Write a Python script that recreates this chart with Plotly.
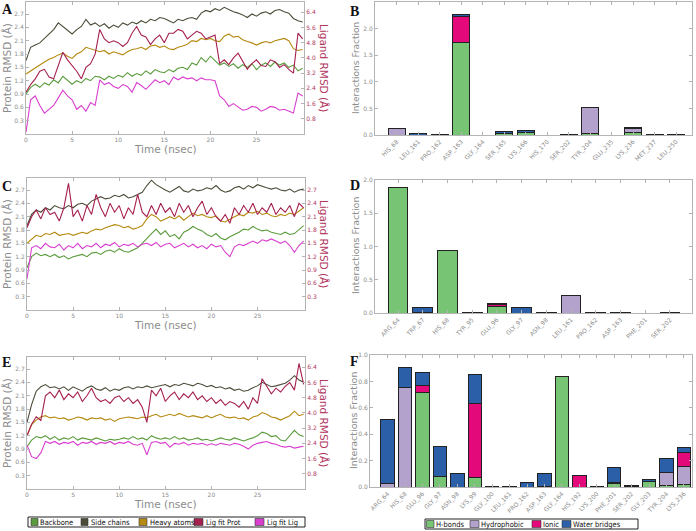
import plotly.graph_objects as go

W, H = 696, 531

# ---------------- data ----------------
TIME = [i * 0.5 for i in range(61)]

A_backbone = [0.9,1.05,1.12,1.05,1.15,1.1,1.22,1.15,1.3,1.2,1.12,1.2,1.15,1.25,1.2,1.3,1.28,1.22,1.3,1.25,1.32,1.28,1.38,1.3,1.36,1.32,1.42,1.35,1.45,1.4,1.38,1.45,1.4,1.48,1.5,1.45,1.6,1.55,1.72,1.62,1.75,1.65,1.55,1.6,1.52,1.58,1.48,1.56,1.5,1.58,1.45,1.55,1.6,1.52,1.62,1.55,1.6,1.5,1.55,1.42,1.48]
A_side = [1.65,1.95,2.0,2.05,2.15,2.25,2.35,2.5,2.42,2.35,2.25,2.35,2.42,2.58,2.45,2.5,2.42,2.48,2.38,2.45,2.4,2.5,2.45,2.52,2.48,2.55,2.5,2.58,2.55,2.62,2.6,2.55,2.5,2.58,2.55,2.6,2.62,2.58,2.72,2.78,2.75,2.82,2.78,2.85,2.8,2.75,2.72,2.68,2.62,2.7,2.65,2.72,2.75,2.7,2.78,2.8,2.75,2.72,2.6,2.55,2.52]
A_heavy = [1.35,1.42,1.5,1.55,1.62,1.68,1.72,1.78,1.82,1.75,1.7,1.8,1.85,1.95,1.92,1.88,1.85,1.88,1.8,1.85,1.82,1.78,1.85,1.9,1.92,1.95,1.9,1.98,2.0,1.95,1.98,1.92,1.9,1.95,1.98,2.02,2.1,2.08,2.15,2.12,2.15,2.1,2.08,2.2,2.25,2.18,2.2,2.12,2.08,2.05,2.0,2.05,2.08,2.05,2.1,2.12,2.15,2.1,1.92,1.88,1.9]
A_ligprot = [2.2,2.6,2.9,3.3,3.4,3.0,2.9,3.6,4.3,3.9,3.6,3.3,2.9,3.5,3.7,4.2,5.5,5.0,4.8,4.9,4.8,4.6,4.8,5.3,5.65,5.2,5.1,4.7,5.0,5.2,4.8,5.3,5.3,5.5,5.4,5.0,5.2,5.4,5.3,5.0,5.1,5.2,3.7,3.9,3.65,4.0,4.25,3.8,3.4,3.7,3.9,3.6,3.55,3.9,3.8,3.5,3.65,3.4,3.2,5.3,5.0]
A_liglig = [0.1,1.8,2.0,1.5,1.1,1.3,1.5,1.9,2.3,2.0,1.8,1.3,1.5,1.2,1.65,1.5,2.85,2.6,2.7,2.5,2.4,2.6,2.5,2.2,2.7,2.55,2.35,2.6,2.85,2.7,2.8,2.6,3.0,2.85,3.0,2.9,2.95,2.8,2.95,2.85,2.85,2.8,2.0,1.8,1.45,1.6,1.4,1.25,1.3,1.45,1.4,1.2,1.3,1.45,1.4,1.25,1.3,1.2,1.1,2.15,2.0]

C_backbone = [0.95,1.2,1.28,1.22,1.25,1.2,1.25,1.18,1.22,1.15,1.2,1.22,1.25,1.2,1.28,1.3,1.25,1.32,1.35,1.3,1.38,1.32,1.3,1.35,1.4,1.5,1.62,1.72,1.82,1.7,1.78,1.65,1.7,1.6,1.75,1.8,1.88,1.82,1.78,1.7,1.65,1.72,1.62,1.58,1.65,1.7,1.75,1.82,1.8,1.88,1.82,1.78,1.8,1.75,1.72,1.7,1.75,1.7,1.72,1.8,1.9]
C_side = [1.9,2.15,2.25,2.2,2.3,2.25,2.35,2.3,2.28,2.35,2.3,2.38,2.4,2.35,2.45,2.5,2.55,2.5,2.52,2.58,2.55,2.6,2.52,2.55,2.6,2.65,2.8,2.92,2.82,2.75,2.7,2.65,2.72,2.78,2.68,2.65,2.72,2.68,2.7,2.75,2.72,2.8,2.7,2.65,2.68,2.75,2.78,2.72,2.8,2.75,2.82,2.78,2.75,2.72,2.75,2.7,2.68,2.72,2.65,2.7,2.72]
C_heavy = [1.5,1.6,1.68,1.65,1.72,1.7,1.75,1.68,1.7,1.72,1.68,1.72,1.75,1.72,1.78,1.82,1.8,1.85,1.88,1.92,1.9,1.85,1.88,1.82,1.85,1.9,2.05,2.15,2.1,2.0,2.05,2.1,2.05,2.12,2.02,2.1,2.18,2.12,2.15,2.1,2.08,2.12,2.0,1.98,2.05,2.1,2.15,2.12,2.2,2.18,2.22,2.15,2.18,2.12,2.1,2.15,2.12,2.18,2.15,2.22,2.3]
C_ligprot = [1.85,2.1,2.25,2.05,2.3,2.15,2.2,2.0,2.3,2.85,2.1,2.25,2.0,2.35,2.15,2.6,2.3,2.1,2.4,2.2,2.35,2.05,2.3,2.15,2.6,2.2,2.1,2.35,2.15,2.4,2.2,2.3,2.1,2.4,2.2,2.35,2.1,2.3,2.45,2.15,2.3,2.1,2.0,2.15,1.95,2.3,2.15,2.35,2.2,2.4,2.15,2.3,2.2,2.4,2.15,2.3,2.2,2.35,2.1,2.4,2.3]
C_liglig = [0.7,1.4,1.45,1.38,1.5,1.42,1.4,1.48,1.35,1.45,1.4,1.5,1.38,1.45,1.42,1.5,1.4,1.48,1.45,1.52,1.42,1.48,1.45,1.5,1.42,1.48,1.5,1.45,1.52,1.42,1.48,1.5,1.4,1.45,1.5,1.42,1.48,1.4,1.45,1.38,1.48,1.42,1.45,1.3,1.2,1.42,1.48,1.45,1.5,1.55,1.5,1.58,1.55,1.6,1.55,1.5,1.55,1.45,1.3,1.45,1.55]

E_backbone = [0.95,1.1,1.18,1.15,1.2,1.12,1.18,1.1,1.15,1.12,1.18,1.1,1.15,1.12,1.1,1.15,1.12,1.08,1.12,1.1,1.12,1.15,1.12,1.18,1.12,1.15,1.1,1.2,1.15,1.12,1.15,1.12,1.18,1.12,1.15,1.1,1.12,1.15,1.1,1.12,1.08,1.12,1.15,1.12,1.1,1.15,1.12,1.08,1.12,1.15,1.2,1.28,1.25,1.18,1.2,1.1,1.08,1.2,1.32,1.22,1.18]
E_side = [1.5,1.9,2.2,2.3,2.35,2.28,2.3,2.25,2.3,2.22,2.3,2.25,2.2,2.28,2.32,2.25,2.22,2.28,2.2,2.25,2.22,2.28,2.3,2.25,2.3,2.28,2.32,2.28,2.3,2.32,2.35,2.3,2.35,2.33,2.38,2.35,2.32,2.38,2.35,2.3,2.33,2.28,2.3,2.25,2.28,2.22,2.25,2.2,2.22,2.28,2.32,2.4,2.35,2.3,2.32,2.35,2.38,2.45,2.55,2.45,2.4]
E_heavy = [1.2,1.45,1.55,1.62,1.65,1.6,1.62,1.58,1.6,1.55,1.58,1.62,1.6,1.55,1.6,1.58,1.6,1.55,1.58,1.52,1.58,1.6,1.62,1.6,1.58,1.62,1.6,1.65,1.68,1.62,1.65,1.68,1.65,1.7,1.66,1.62,1.65,1.62,1.6,1.65,1.6,1.65,1.68,1.62,1.6,1.62,1.58,1.6,1.55,1.62,1.65,1.72,1.68,1.62,1.6,1.55,1.6,1.65,1.75,1.65,1.68]
E_ligprot = [2.8,3.4,3.8,3.6,4.9,5.1,4.8,5.2,4.7,5.0,4.8,5.1,4.6,4.9,5.3,4.8,4.6,4.7,4.5,4.8,4.9,4.6,4.8,4.5,4.7,4.3,3.5,5.2,4.9,5.3,4.6,4.9,5.1,4.7,5.0,4.8,5.1,4.7,4.9,4.6,4.8,4.5,4.7,4.4,4.6,4.5,4.3,4.6,4.2,4.8,4.5,5.8,5.4,5.0,5.3,5.1,5.4,5.6,5.2,6.6,5.5]
E_liglig = [2.3,1.7,1.6,1.9,2.5,2.4,2.5,2.35,2.45,2.4,2.5,2.3,2.45,2.4,2.5,2.35,2.45,2.4,2.5,2.35,2.45,2.4,2.5,2.35,2.3,2.4,1.8,2.45,2.5,2.4,2.45,2.2,2.4,2.35,2.45,2.3,2.4,2.35,2.4,2.3,2.38,2.3,2.4,2.35,2.3,2.4,2.35,2.25,2.1,2.3,2.4,2.45,2.5,2.4,2.35,2.25,2.2,2.25,2.15,2.2,2.25]

SERIES_NAMES = ["Backbone", "Side chains", "Heavy atoms", "Lig fit Prot", "Lig fit Lig"]
SERIES_COLORS = ["#5a9b3c", "#4d4b38", "#b58a10", "#a5204f", "#d93fcf"]

B_res = ["HIS_68","LEU_161","PRO_162","ASP_163","GLY_164","SER_165","LYS_166","HIS_170","SER_202","TYR_204","GLU_235","LYS_236","MET_237","LEU_250"]
B_hb  = [0,0,0,1.73,0,0.03,0.05,0,0,0.02,0,0.05,0,0]
B_hy  = [0.13,0,0.015,0,0,0,0,0,0.015,0.49,0,0.07,0.015,0.01]
B_io  = [0,0,0,0.50,0,0,0,0,0,0,0,0,0,0]
B_wb  = [0,0.02,0,0.03,0,0.04,0.04,0,0,0,0,0.02,0,0]

D_res = ["ARG_64","TRP_67","HIS_68","TYR_95","GLU_96","GLY_97","ASN_98","LEU_161","PRO_162","ASP_163","PHE_201","SER_202"]
D_hb  = [1.89,0.01,0.945,0,0.105,0,0,0,0,0,0,0]
D_hy  = [0,0,0,0.015,0,0,0.005,0.26,0.005,0,0,0.005]
D_io  = [0,0,0,0,0.03,0,0,0,0,0.015,0,0]
D_wb  = [0,0.07,0,0,0.01,0.085,0,0,0,0,0,0]

F_res = ["ARG_64","HIS_68","GLU_96","GLY_97","ASN_98","LYS_99","GLY_100","LEU_161","PRO_162","ASP_163","GLY_164","HIS_192","LYS_200","PHE_201","SER_202","GLY_203","TYR_204","LYS_236"]
F_hb  = [0,0,0.715,0.08,0,0.07,0,0,0,0.005,0.835,0,0,0.03,0,0.04,0.015,0.02]
F_hy  = [0.03,0.752,0,0,0,0,0,0.005,0,0,0,0,0.004,0.005,0.002,0,0.098,0.139]
F_io  = [0,0,0.053,0,0,0.565,0,0,0,0,0,0.086,0,0,0,0,0,0.105]
F_wb  = [0.478,0.155,0.101,0.23,0.106,0.214,0.005,0,0.035,0.1,0.005,0,0,0.116,0.008,0.015,0.106,0.038]

INT_NAMES = ["H-bonds", "Hydrophobic", "Ionic", "Water bridges"]
INT_COLORS = ["#78c475", "#b3a2cc", "#e4097a", "#2b5fa8"]

# ---------------- helpers ----------------
def px(x):
    return x / W

def py(y):
    return 1 - y / H

GRAY = "#8c8c8c"
LIGC = "#b03560"
FRAME = "#b4b4b4"

fig = go.Figure()

rmsd_panels = [
    ("x", "y", "y2", [A_backbone, A_side, A_heavy, A_ligprot, A_liglig]),
    ("x2", "y3", "y4", [C_backbone, C_side, C_heavy, C_ligprot, C_liglig]),
    ("x3", "y5", "y6", [E_backbone, E_side, E_heavy, E_ligprot, E_liglig]),
]
for xa, ya, ya2, data in rmsd_panels:
    for i, (name, col, vals) in enumerate(zip(SERIES_NAMES, SERIES_COLORS, data)):
        fig.add_trace(go.Scatter(
            x=TIME, y=vals, mode="lines", name=name,
            line=dict(color=col, width=1.1), showlegend=False,
            xaxis=xa, yaxis=(ya if i < 3 else ya2)))

bar_panels = [
    ("x4", "y7", B_res, [B_hb, B_hy, B_io, B_wb], 0.8),
    ("x5", "y8", D_res, [D_hb, D_hy, D_io, D_wb], 0.8),
    ("x6", "y9", F_res, [F_hb, F_hy, F_io, F_wb], 0.77),
]
for xa, ya, res, data, bw in bar_panels:
    idx = list(range(len(res)))
    for name, col, vals in zip(INT_NAMES, INT_COLORS, data):
        fig.add_trace(go.Bar(
            x=idx, y=vals, name=name, width=bw,
            marker=dict(color=col, line=dict(color="#222222", width=1)),
            showlegend=False, xaxis=xa, yaxis=ya))

tickfont = dict(size=6, color=GRAY)

def xax(dom, anchor, rng, tickvals, ticktext=None, angle=0):
    d = dict(domain=dom, anchor=anchor, range=rng, tickvals=tickvals,
             showline=True, linecolor=FRAME, linewidth=1, mirror="ticks",
             ticks="inside", ticklen=3, tickcolor=FRAME, showgrid=False,
             zeroline=False, tickfont=tickfont, tickangle=angle, automargin=False)
    if ticktext is not None:
        d["ticktext"] = ticktext
    return d

def yax(dom, anchor, rng, tickvals, ticktext, color=GRAY, mirror="ticks"):
    return dict(domain=dom, anchor=anchor, range=rng, tickvals=tickvals,
                ticktext=ticktext, showline=True, linecolor=FRAME, linewidth=1,
                mirror=mirror, ticks="inside", ticklen=3, tickcolor=FRAME,
                showgrid=False, zeroline=False, automargin=False,
                tickfont=dict(size=6, color=color))

left_t = [0.3, 0.6, 0.9, 1.2, 1.5, 1.8, 2.1, 2.4, 2.7]
left_l = ["%.1f" % v for v in left_t]
lig_t = [0.8, 1.6, 2.4, 3.2, 4.0, 4.8, 5.6, 6.4]
lig_l = ["%.1f" % v for v in lig_t]
time_t = [0, 5, 10, 15, 20, 25]

layout = dict(
    width=W, height=H, margin=dict(l=0, r=0, t=0, b=0, pad=0),
    paper_bgcolor="white", plot_bgcolor="white",
    font=dict(family="DejaVu Sans", color=GRAY),
    barmode="stack", showlegend=False,
)

rm_y = {
    "A": [py(134), py(2)],
    "C": [py(310), py(178)],
    "E": [py(489), py(357)],
}
layout["xaxis"] = xax([px(26), px(304)], "y", [0, 30.15], time_t)
layout["yaxis"] = yax(rm_y["A"], "x", [0, 2.97], left_t, left_l, mirror=False)
layout["yaxis2"] = yax(rm_y["A"], "x", [0, 6.94], lig_t, lig_l, color=LIGC, mirror=False)
layout["yaxis2"].update(overlaying="y", side="right")

layout["xaxis2"] = xax([px(27), px(305)], "y3", [0, 30.15], time_t)
layout["yaxis3"] = yax(rm_y["C"], "x2", [0, 2.97], left_t, left_l, mirror=False)
layout["yaxis4"] = yax(rm_y["C"], "x2", [0, 2.97], left_t, left_l, color=LIGC, mirror=False)
layout["yaxis4"].update(overlaying="y3", side="right")

layout["xaxis3"] = xax([px(27), px(305)], "y5", [0, 30.15], time_t)
layout["yaxis5"] = yax(rm_y["E"], "x3", [0, 2.97], left_t, left_l, mirror=False)
layout["yaxis6"] = yax(rm_y["E"], "x3", [0, 6.94], lig_t, lig_l, color=LIGC, mirror=False)
layout["yaxis6"].update(overlaying="y5", side="right")

layout["xaxis4"] = xax([px(375), px(692)], "y7", [-1.02, 13.74], list(range(len(B_res))), B_res, angle=-45)
layout["yaxis7"] = yax([py(135), py(2)], "x4", [0, 2.5], [0, 0.5, 1.0, 1.5, 2.0, 2.5],
                       ["0.0", "0.5", "1.0", "1.5", "2.0", "2.5"])
layout["xaxis5"] = xax([px(375), px(692)], "y8", [-0.93, 11.89], list(range(len(D_res))), D_res, angle=-45)
layout["yaxis8"] = yax([py(313), py(180)], "x5", [0, 2.0], [0, 0.5, 1.0, 1.5, 2.0],
                       ["0.0", "0.5", "1.0", "1.5", "2.0"])
layout["xaxis6"] = xax([px(370), px(692)], "y9", [-1.01, 17.46], list(range(len(F_res))), F_res, angle=-45)
layout["yaxis9"] = yax([py(487), py(355)], "x6", [0, 1.0], [0, 0.2, 0.4, 0.6, 0.8, 1.0],
                       ["0.0", "0.2", "0.4", "0.6", "0.8", "1.0"])

fig.update_layout(**layout)

ann = []
shapes = []

def text(x, y, s, size, color, angle=0, xanchor="center", yanchor="middle", family="DejaVu Sans", bold=False):
    ann.append(dict(x=px(x), y=py(y), xref="paper", yref="paper", text=("<b>%s</b>" % s if bold else s),
                    showarrow=False, textangle=angle, xanchor=xanchor, yanchor=yanchor,
                    font=dict(size=size, color=color, family=family)))

for letter, (lx, ly) in zip("ABCDEF", [(0, 0), (348, 2), (0, 177), (348, 176), (0, 353), (348, 352)]):
    text(lx, ly, letter, 14, "#111111", xanchor="left", yanchor="top", family="Liberation Serif", bold=True)

for cy, ty in [(68, 149), (244, 325), (423, 504)]:
    text(7, cy, "Protein RMSD (Å)", 10.5, GRAY, angle=-90)
    text(324, cy, "Ligand RMSD (Å)", 10.5, LIGC, angle=90)
    text(165, ty, "Time (nsec)", 10.5, GRAY)

text(356, 68, "Interactions Fraction", 9, GRAY, angle=-90)
text(356, 246, "Interactions Fraction", 9.5, GRAY, angle=-90)
text(353, 421, "Interactions Fraction", 9.5, GRAY, angle=-90)

LEG_FONT = "DejaVu Sans Condensed, DejaVu Sans"

def legend(box, items, names, colors, yc):
    x0, y0, x1, y1 = box
    shapes.append(dict(type="rect", xref="paper", yref="paper",
                       x0=px(x0), x1=px(x1), y0=py(y1), y1=py(y0),
                       line=dict(color="#222222", width=1), fillcolor="white"))
    for (sx0, sx1, tx), nm, col in zip(items, names, colors):
        shapes.append(dict(type="rect", xref="paper", yref="paper",
                           x0=px(sx0), x1=px(sx1), y0=py(yc + 3.5), y1=py(yc - 3.5),
                           line=dict(color="#333333", width=0.6), fillcolor=col))
        text(tx, yc, nm, 7.5, "#111111", xanchor="left", family=LEG_FONT)

legend((28, 517, 305, 527),
       [(31, 38, 38), (81, 88, 89), (139, 147, 147.5), (194, 203, 203.5), (255, 264, 264.5)],
       SERIES_NAMES, SERIES_COLORS, 522)
legend((425, 519, 638, 529),
       [(426.5, 434, 434), (470, 479, 479), (532, 541, 541), (562, 571, 571)],
       INT_NAMES, INT_COLORS, 524)

fig.update_layout(annotations=ann, shapes=shapes)
fig.write_html("out.html", config={"displayModeBar": False},
               post_script="document.body.style.margin='0';document.body.style.padding='0';")
